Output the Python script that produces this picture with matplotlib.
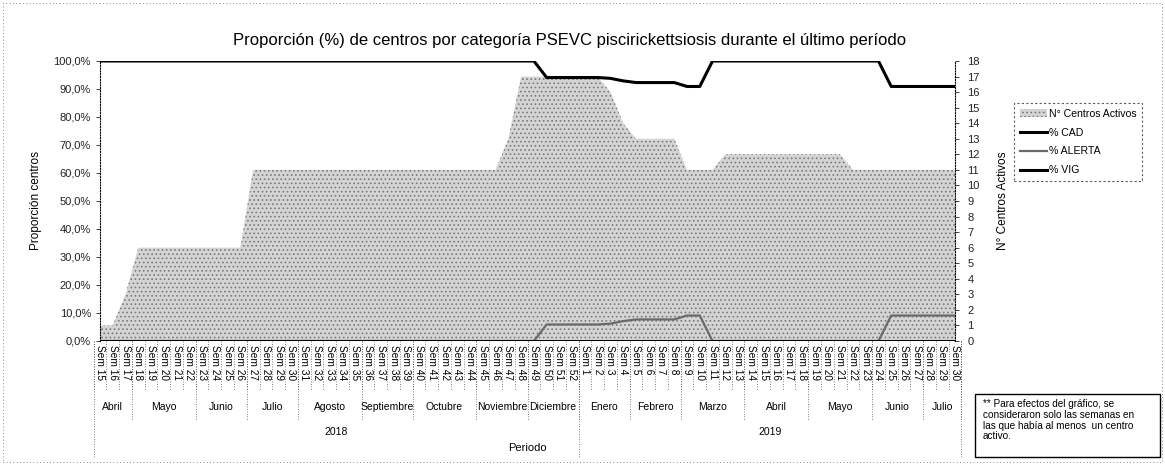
import matplotlib
matplotlib.use("Agg")
import matplotlib.pyplot as plt
from matplotlib.patches import Rectangle, Patch
from matplotlib.lines import Line2D
import matplotlib.transforms as mtransforms

plt.rcParams['font.family'] = ['Liberation Sans', 'DejaVu Sans']
plt.rcParams['hatch.linewidth'] = 0.7

# ---------------- data ----------------
weeks_2018 = [15, 16, 17, 18, 19, 20, 21, 22, 23, 24, 25, 26, 27, 28, 29, 30, 31, 32, 33,
              34, 35, 36, 37, 38, 39, 40, 41, 42, 43, 44, 45, 46, 47, 48, 49, 50, 51, 52]
weeks_2019 = [1, 2, 3, 4, 5, 6, 7, 8, 9, 10, 11, 12, 13, 14, 15, 16, 17, 18, 19, 20,
              21, 22, 23, 24, 25, 26, 27, 28, 29, 30]
week_labels = ["Sem %d" % w for w in weeks_2018 + weeks_2019]

month_names = ["Abril", "Mayo", "Junio", "Julio", "Agosto", "Septiembre", "Octubre",
               "Noviembre", "Diciembre",
               "Enero", "Febrero", "Marzo", "Abril", "Mayo", "Junio", "Julio"]
month_weeks = [3, 5, 4, 4, 5, 4, 5, 4, 4,
               4, 4, 5, 5, 5, 4, 3]
years = ["2018", "2019"]
year_weeks = [38, 30]

centros_activos = [1, 1, 3, 6, 6, 6, 6, 6, 6, 6, 6, 6,
                   11, 11, 11, 11, 11, 11, 11, 11, 11, 11, 11, 11, 11, 11, 11, 11, 11, 11, 11, 11,
                   13, 17, 17, 17, 17, 17, 17, 17,
                   16, 14, 13, 13, 13, 13, 11, 11, 11,
                   12, 12, 12, 12, 12, 12, 12, 12, 12, 12,
                   11, 11, 11, 11, 11, 11, 11, 11, 11]
pct_cad = [100.0, 100.0, 100.0, 100.0, 100.0, 100.0, 100.0, 100.0, 100.0, 100.0,
           100.0, 100.0, 100.0, 100.0, 100.0, 100.0, 100.0, 100.0, 100.0, 100.0,
           100.0, 100.0, 100.0, 100.0, 100.0, 100.0, 100.0, 100.0, 100.0, 100.0,
           100.0, 100.0, 100.0, 100.0, 100.0,
           94.1, 94.1, 94.1, 94.1, 94.1, 93.8, 92.9, 92.3, 92.3, 92.3, 92.3, 90.9, 90.9,
           100.0, 100.0, 100.0, 100.0, 100.0, 100.0, 100.0, 100.0, 100.0, 100.0,
           100.0, 100.0, 100.0, 100.0,
           90.9, 90.9, 90.9, 90.9, 90.9, 90.9]
pct_alerta = [0.0, 0.0, 0.0, 0.0, 0.0, 0.0, 0.0, 0.0, 0.0, 0.0,
              0.0, 0.0, 0.0, 0.0, 0.0, 0.0, 0.0, 0.0, 0.0, 0.0,
              0.0, 0.0, 0.0, 0.0, 0.0, 0.0, 0.0, 0.0, 0.0, 0.0,
              0.0, 0.0, 0.0, 0.0, 0.0,
              5.9, 5.9, 5.9, 5.9, 5.9, 6.2, 7.1, 7.7, 7.7, 7.7, 7.7, 9.1, 9.1,
              0.0, 0.0, 0.0, 0.0, 0.0, 0.0, 0.0, 0.0, 0.0, 0.0,
              0.0, 0.0, 0.0, 0.0,
              9.1, 9.1, 9.1, 9.1, 9.1, 9.1]
pct_vig = [0.0] * 68

# ---------------- figure ----------------
W, H = 1165, 465
fig = plt.figure(figsize=(W / 100, H / 100), dpi=100)
L, R, T, B = 100, 955, 61, 341
ax = fig.add_axes([L / W, 1 - B / H, (R - L) / W, (B - T) / H])
ax2 = ax.twinx()
ax.set_zorder(ax2.get_zorder() + 1)
ax.patch.set_visible(False)

x = list(range(len(week_labels)))
n = len(x)

FILL_FC, FILL_EC, FILL_HATCH = '#d4d4d4', '#7a7a7a', '....'
ax2.fill_between(x, 0, centros_activos, facecolor=FILL_FC, edgecolor=FILL_EC,
                 hatch=FILL_HATCH, linewidth=0)
ax2.set_ylim(0, 18)
ax2.set_yticks(range(0, 19))
ax2.tick_params(axis='y', labelsize=8, length=3, width=0.6, pad=6, colors='#222222')

ax.plot(x, pct_alerta, color='#6a6a6a', lw=1.6)
ax.plot(x, pct_vig, color='black', lw=2.2)
ax.plot(x, pct_cad, color='black', lw=2.2)
ax.set_ylim(0, 100)
ax.set_xlim(0, n - 1)
ax.set_yticks(range(0, 101, 10))
ax.set_yticklabels([("%.1f%%" % v).replace('.', ',') for v in range(0, 101, 10)])
ax.tick_params(axis='y', labelsize=8, length=3, width=0.6, colors='#222222')

ax.set_xticks(x)
ax.set_xticklabels(week_labels, rotation=-90, fontsize=7.3, va='top', ha='center')
ax.tick_params(axis='x', length=0, pad=3)

for a in (ax, ax2):
    for s in a.spines.values():
        s.set_visible(False)
ax.spines['left'].set_visible(True)
ax.spines['left'].set_linestyle((0, (1, 1.5)))
ax.spines['left'].set_linewidth(0.8)
ax2.spines['right'].set_visible(True)
ax2.spines['right'].set_linestyle((0, (1, 1.5)))
ax2.spines['right'].set_linewidth(0.8)

ax.set_ylabel("Proporción centros", fontsize=8.5, labelpad=8)
ax2.set_ylabel("N° Centros Activos", fontsize=8.5, labelpad=12)

# ----- multi-level category axis -----
trans = mtransforms.blended_transform_factory(ax.transData, ax.transAxes)
px = 1.0 / (B - T)  # one pixel in axes fraction
dotted = (0, (1, 2))
for k in range(n + 1):
    ax.add_line(Line2D([k - 0.5, k - 0.5], [0, -50 * px], transform=trans, clip_on=False,
                       color='#555555', lw=0.6, ls=dotted))

pos = 0
for name, cnt in zip(month_names, month_weeks):
    ax.text(pos - 0.5 + cnt / 2, -66 * px, name, transform=trans, ha='center', va='center',
            fontsize=7.5)
    pos += cnt
    ax.add_line(Line2D([pos - 0.5, pos - 0.5], [0, -80 * px], transform=trans, clip_on=False,
                       color='#555555', lw=0.6, ls=dotted))
ax.add_line(Line2D([-0.5, -0.5], [0, -117 * px], transform=trans, clip_on=False,
                   color='#555555', lw=0.6, ls=dotted))

pos = 0
for name, cnt in zip(years, year_weeks):
    ax.text(pos - 0.5 + cnt / 2, -91 * px, name, transform=trans, ha='center', va='center',
            fontsize=7.5)
    pos += cnt
    ax.add_line(Line2D([pos - 0.5, pos - 0.5], [0, -117 * px], transform=trans, clip_on=False,
                       color='#555555', lw=0.6, ls=dotted))

ax.text(0.5, -107 * px, "Periodo", transform=ax.transAxes, ha='center', va='center',
        fontsize=8)

fig.text(570 / W, 1 - 40 / H,
         "Proporción (%) de centros por categoría PSEVC piscirickettsiosis durante el último período",
         ha='center', va='center', fontsize=12)

# ----- legend -----
handles = [Patch(facecolor=FILL_FC, edgecolor=FILL_EC, hatch=FILL_HATCH, linewidth=0),
           Line2D([], [], color='black', lw=2.2),
           Line2D([], [], color='#6a6a6a', lw=1.6),
           Line2D([], [], color='black', lw=2.2)]
labels = ["N° Centros Activos", "% CAD", "% ALERTA", "% VIG"]
leg = fig.legend(handles, labels, loc='upper left', bbox_to_anchor=(1009 / W, 1 - 98 / H),
                 fontsize=7.6, frameon=True, fancybox=False, handlelength=2.6,
                 handletextpad=0.2, labelspacing=0.85, borderpad=0.5)
leg.get_frame().set_edgecolor('#333333')
leg.get_frame().set_linestyle((0, (2, 2)))
leg.get_frame().set_linewidth(0.8)

# ----- note box -----
fig.patches.append(Rectangle((975 / W, 1 - 457 / H), 185 / W, 63 / H, transform=fig.transFigure,
                             facecolor='white', edgecolor='black', lw=1.0))
fig.text(983 / W, 1 - 399 / H,
         "** Para efectos del gráfico, se\nconsideraron solo las semanas en\nlas que había al menos  un centro\nactivo.",
         ha='left', va='top', fontsize=7.2, linespacing=1.1)

# figure dotted frame
fig.patches.append(Rectangle((3 / W, 3 / H), (W - 6) / W, (H - 6) / H, transform=fig.transFigure,
                             facecolor='none', edgecolor='#666666', lw=0.6, ls=(0, (1, 3))))

fig.savefig("out.png", dpi=100)
